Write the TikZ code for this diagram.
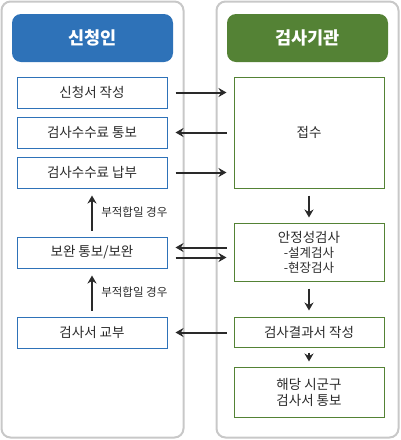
\documentclass[tikz,border=0pt]{standalone}
\usepackage{fontspec}
\setmainfont{Noto Sans CJK KR}
\usetikzlibrary{arrows.meta}

\definecolor{panelgray}{HTML}{C8C8C8}
\definecolor{boxblue}{HTML}{2E72B8}
\definecolor{boxgreen}{HTML}{548235}
\definecolor{textgray}{HTML}{2A2A2A}

\begin{document}
\begin{tikzpicture}[
                x=1pt, y=-1pt,
                panel/.style={draw=panelgray, line width=2pt, rounded corners=9pt},
                head/.style={rounded corners=9pt, minimum width=161pt, minimum height=48pt,
                    text=white, font=\fontsize{17.5}{20}\selectfont\bfseries},
                lbox/.style={draw=boxblue, line width=1pt, minimum width=150pt, minimum height=31pt,
                    text=textgray, font=\fontsize{13.5}{16}\selectfont},
                rbox/.style={draw=boxgreen, line width=1pt, minimum width=150pt,
                    text=textgray, font=\fontsize{13.5}{16}\selectfont, align=center},
                note/.style={anchor=west, text=textgray, font=\fontsize{11.5}{13}\selectfont},
                flow/.style={->, draw=textgray, line width=2pt},
                >={Stealth[length=8pt, width=9pt]}
            ]

            \useasboundingbox (0,0) rectangle (400,440);

            % panels
            \draw[panel] (1.5,1.5) rectangle (183.5,437.5);
            \draw[panel] (216.5,1.5) rectangle (398.5,437.5);

            \node[head, fill=boxblue] (H1) at (92.5,38) {신청인};
            \node[head, fill=boxgreen] (H2) at (307.5,38) {검사기관};

            % applicant side
            \node[lbox] (L1) at (92,92.5) {신청서 작성};
            \node[lbox] (L2) at (92,132.5) {검사수수료 통보};
            \node[lbox] (L3) at (92,172.5) {검사수수료 납부};
            \node[lbox] (L4) at (92,252.5) {보완 통보/보완};
            \node[lbox] (L5) at (92,332.5) {검사서 교부};

            % agency side
            \node[rbox, minimum height=111pt] (R1) at (309,132.5) {접수};
            \node[rbox, minimum height=58pt] (R2) at (309,252) {안정성검사\\[-1pt]
                {\fontsize{12.5}{15}\selectfont -설계검사}\\[-1pt]
                {\fontsize{12.5}{15}\selectfont -현장검사}};
            \node[rbox, minimum height=30pt] (R3) at (309,332) {검사결과서 작성};
            \node[rbox, minimum height=50pt, text depth=0pt] (R4) at (309,392) {해당 시군구\\검사서 통보};

            % across
            \draw[flow, shorten <=8pt, shorten >=7pt] (L1.east) -- (L1.east -| R1.west);
            \draw[flow, shorten <=7pt, shorten >=8pt] (L2.east -| R1.west) -- (L2.east);
            \draw[flow, shorten <=8pt, shorten >=7pt] (L3.east) -- (L3.east -| R1.west);
            \draw[flow, shorten <=7pt, shorten >=8pt] ([yshift=5pt]L4.east -| R2.west) -- ([yshift=5pt]L4.east);
            \draw[flow, shorten <=8pt, shorten >=7pt] ([yshift=-5pt]L4.east) -- ([yshift=-5pt]L4.east -| R2.west);
            \draw[flow, shorten <=7pt, shorten >=8pt] (L5.east -| R3.west) -- (L5.east);

            % up and down
            \draw[flow, shorten <=6pt, shorten >=7pt] (L4.north) -- (L3.south)
                node[note, midway, xshift=5pt] {부적합일 경우};
            \draw[flow, shorten <=6pt, shorten >=7pt] (L5.north) -- (L4.south)
                node[note, midway, xshift=5pt] {부적합일 경우};
            \draw[flow, shorten <=7pt, shorten >=5pt] (R1.south) -- (R2.north);
            \draw[flow, shorten <=7pt, shorten >=6pt] (R2.south) -- (R3.north);
            \draw[flow, shorten <=5pt, shorten >=5pt] (R3.south) -- (R4.north);

        \end{tikzpicture}
\end{document}
